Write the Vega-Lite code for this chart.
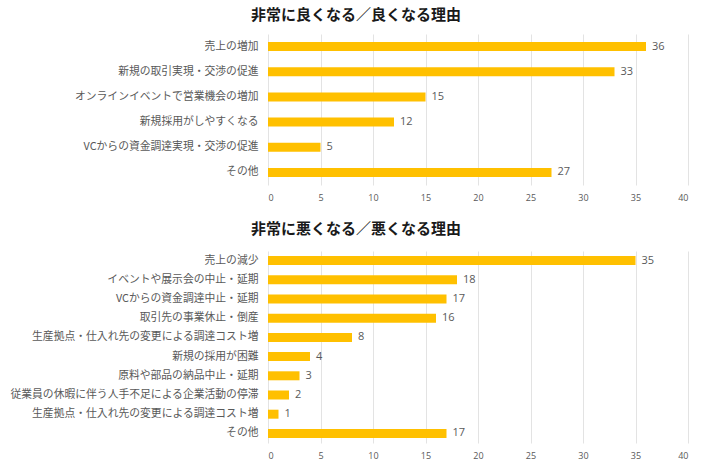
{
  "$schema": "https://vega.github.io/schema/vega-lite/v6.json",
  "background": "white",
  "padding": {"left": 4, "top": 8, "right": 20, "bottom": 5},
  "spacing": 20,
  "datasets": {
    "good": [
      {"reason": "売上の増加", "value": 36},
      {"reason": "新規の取引実現・交渉の促進", "value": 33},
      {"reason": "オンラインイベントで営業機会の増加", "value": 15},
      {"reason": "新規採用がしやすくなる", "value": 12},
      {"reason": "VCからの資金調達実現・交渉の促進", "value": 5},
      {"reason": "その他", "value": 27}
    ],
    "bad": [
      {"reason": "売上の減少", "value": 35},
      {"reason": "イベントや展示会の中止・延期", "value": 18},
      {"reason": "VCからの資金調達中止・延期", "value": 17},
      {"reason": "取引先の事業休止・倒産", "value": 16},
      {"reason": "生産拠点・仕入れ先の変更による調達コスト増", "value": 8},
      {"reason": "新規の採用が困難", "value": 4},
      {"reason": "原料や部品の納品中止・延期", "value": 3},
      {"reason": "従業員の休暇に伴う人手不足による企業活動の停滞", "value": 2},
      {"reason": "生産拠点・仕入れ先の変更による調達コスト増\u200B", "value": 1},
      {"reason": "その他", "value": 17}
    ]
  },
  "config": {
    "font": "Noto Sans CJK JP",
    "view": {"stroke": null},
    "title": {"fontSize": 15, "fontWeight": "bold", "color": "#1a1a1a", "anchor": "middle", "frame": "bounds", "dx": 10},
    "axis": {"labelColor": "#595959", "labelFont": "Noto Sans CJK JP"}
  },
  "vconcat": [
    {
      "title": {"text": "非常に良くなる／良くなる理由", "offset": 11},
      "width": 420,
      "height": 151,
      "data": {"name": "good"},
      "encoding": {
        "y": {
          "field": "reason", "type": "nominal", "sort": null, "title": null,
          "scale": {"paddingInner": 0, "paddingOuter": 0},
          "axis": {"domain": false, "ticks": false, "labelPadding": 10, "labelFontSize": 10.8, "minExtent": 264, "maxExtent": 264, "labelLimit": 300}
        },
        "x": {
          "field": "value", "type": "quantitative", "title": null,
          "scale": {"domain": [0, 40]},
          "axis": {"values": [0, 5, 10, 15, 20, 25, 30, 35, 40], "domain": false, "ticks": false, "labelPadding": 8, "labelFontSize": 9, "gridColor": "#e3e3e3", "labelFont": "Open Sans"}
        }
      },
      "layer": [
        {"mark": {"type": "bar", "color": "#FFC000", "size": 9}},
        {"mark": {"type": "text", "align": "left", "dx": 6, "fontSize": 11, "color": "#595959", "font": "Open Sans"}, "encoding": {"text": {"field": "value", "type": "quantitative"}}}
      ]
    },
    {
      "title": {"text": "非常に悪くなる／悪くなる理由", "offset": 14},
      "width": 420,
      "height": 192,
      "data": {"name": "bad"},
      "encoding": {
        "y": {
          "field": "reason", "type": "nominal", "sort": null, "title": null,
          "scale": {"paddingInner": 0, "paddingOuter": 0},
          "axis": {"domain": false, "ticks": false, "labelPadding": 10, "labelFontSize": 10.8, "minExtent": 264, "maxExtent": 264, "labelLimit": 300}
        },
        "x": {
          "field": "value", "type": "quantitative", "title": null,
          "scale": {"domain": [0, 40]},
          "axis": {"values": [0, 5, 10, 15, 20, 25, 30, 35, 40], "domain": false, "ticks": false, "labelPadding": 8, "labelFontSize": 9, "gridColor": "#e3e3e3", "labelFont": "Open Sans"}
        }
      },
      "layer": [
        {"mark": {"type": "bar", "color": "#FFC000", "size": 9}},
        {"mark": {"type": "text", "align": "left", "dx": 6, "fontSize": 11, "color": "#595959", "font": "Open Sans"}, "encoding": {"text": {"field": "value", "type": "quantitative"}}}
      ]
    }
  ]
}
